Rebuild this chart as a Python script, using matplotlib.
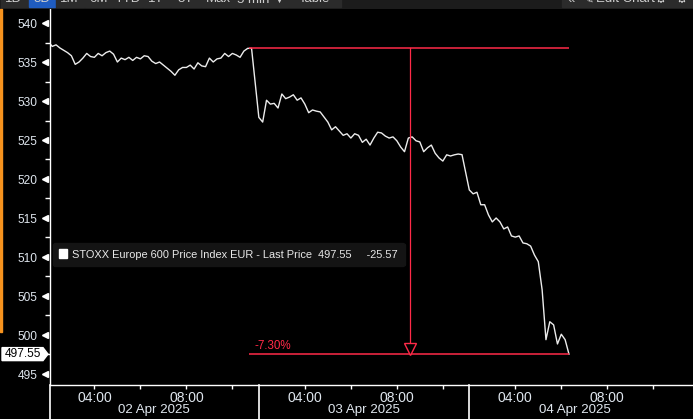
import numpy as np
import pandas as pd
import matplotlib
matplotlib.use('Agg')
import matplotlib.pyplot as plt
from matplotlib.patches import Patch, Polygon, Rectangle
from matplotlib.transforms import blended_transform_factory, offset_copy

plt.rcParams['font.family'] = ['Liberation Sans', 'DejaVu Sans']

# ---------------- data : STOXX Europe 600, 10 min bars, 3 sessions
day_labels = ['02 Apr 2025', '03 Apr 2025', '04 Apr 2025']
day_dates = ['2025-04-02', '2025-04-03', '2025-04-04']
session_open = '02:00'
bar_freq = '10min'

prices_d1 = [537.6, 537.0, 537.2, 536.8, 536.5, 536.2, 535.8, 534.7, 535.0, 535.5,
             536.1, 535.7, 535.6, 536.1, 535.8, 536.2, 536.4, 536.0, 535.0, 535.5,
             535.3, 535.6, 535.2, 535.6, 535.4, 535.8, 535.7, 535.1, 534.8, 535.0,
             534.6, 534.2, 533.8, 533.3, 534.0, 534.3, 534.3, 534.6, 534.1, 534.9,
             534.5, 534.4, 535.5, 535.0, 535.4, 535.5, 536.1, 535.7, 536.1, 535.9,
             535.6, 536.4, 536.75, 536.75]
prices_d2 = [527.9, 527.3, 530.1, 529.6, 529.7, 529.1, 530.9, 530.3, 530.5, 530.8,
             530.1, 530.4, 529.6, 528.5, 528.85, 528.7, 528.6, 527.95, 527.3, 526.3,
             526.7, 526.15, 525.6, 525.8, 525.25, 525.8, 525.6, 524.7, 525.1, 524.35,
             525.25, 526.0, 525.9, 525.5, 525.25, 525.4, 524.9, 524.1, 523.5, 525.25,
             525.4, 524.9, 524.75, 523.5, 524.0, 524.35, 523.3, 522.7, 522.3, 523.1,
             522.95, 523.1, 523.2, 523.12]
prices_d3 = [518.6, 518.1, 518.3, 516.7, 516.7, 515.4, 514.5, 515.0, 514.5, 513.6,
             513.85, 512.7, 512.55, 512.7, 511.8, 511.7, 511.4, 510.25, 509.4, 505.8,
             499.4, 501.7, 501.3, 498.85, 500.1, 499.4, 497.55]

series_name = 'STOXX Europe 600 Price Index EUR - Last Price'
hour_labels = [4, 8]
hour_minor = [6, 10]
y_major = [495, 500, 505, 510, 515, 520, 525, 530, 535, 540]

toolbar_left = ['1D', '5D', '1M', '6M', 'YTD', '1Y', '5Y', 'Max', '5 min \u25BC', 'Table']
toolbar_edges = [0, 28, 55, 84, 113, 142, 170, 201, 235, 288, 341]

# ---------------- style
RED = '#ff2a48'
TXT = '#dfe6ee'
W, H = 693, 419
PX_H = 23.0             # pixels per hour
DAY_LEN = 9.15          # hours shown per session
X0 = 0.07               # left limit, hours after first open
open_h = int(session_open[:2]) + int(session_open[3:]) / 60

def pos(day_idx, ts):
    return day_idx * DAY_LEN + ts.hour + ts.minute / 60 - open_h

xs, ys = [], []
for d, vals in enumerate([prices_d1, prices_d2, prices_d3]):
    times = pd.date_range(day_dates[d] + ' ' + session_open, periods=len(vals), freq=bar_freq)
    xs += [pos(d, t) for t in times]
    ys += vals
xs = np.array(xs)
ys = np.array(ys)

fig = plt.figure(figsize=(W / 100, H / 100), dpi=100, facecolor='black')
ax = fig.add_axes([50 / W, 34 / H, 1 - 50 / W, (385 - 9) / H])
ax.set_facecolor('black')

ax.plot(xs, ys, color='#ececec', lw=1.0)

ax.set_xlim(X0, X0 + (W - 50) / PX_H)
ax.set_ylim(540 - (385 - 23) / 7.8, 540 + (23 - 9) / 7.8)

for s in ['top', 'right']:
    ax.spines[s].set_visible(False)
for s in ['left', 'bottom']:
    ax.spines[s].set_color('white')
    ax.spines[s].set_linewidth(1)

# y axis
ax.set_yticks(y_major)
ax.set_yticks(np.arange(495, 541, 2.5), minor=True)
ax.tick_params(axis='y', which='major', length=0, pad=9, labelsize=8.6, labelcolor=TXT)
ax.tick_params(axis='y', which='minor', length=3.5, width=1, color='white', direction='out')
tri_tr = offset_copy(blended_transform_factory(ax.transAxes, ax.transData), fig=fig, x=-3.5, y=0, units='points')
ax.plot(np.zeros(len(y_major)), y_major, ls='none', marker='<', ms=5, color='white',
        transform=tri_tr, clip_on=False)

# x axis (compressed sessions)
xmaj = [d * DAY_LEN + h - open_h for d in range(3) for h in hour_labels]
xmin = [d * DAY_LEN + h - open_h for d in range(3) for h in hour_minor]
ax.set_xticks(xmaj)
ax.set_xticklabels([f'{h:02d}:00' for d in range(3) for h in hour_labels])
ax.set_xticks(xmin, minor=True)
ax.tick_params(axis='x', which='both', length=3, width=1, color='white', direction='out',
               pad=1.5, labelsize=10, labelcolor=TXT)
sep_tr = blended_transform_factory(ax.transData, ax.transAxes)
for d in range(3):
    xsep = max(d * DAY_LEN, X0)
    ax.plot([xsep] * 2, [0, -0.1], color='white', lw=1.2, transform=sep_tr, clip_on=False)
    ax.text(d * DAY_LEN + DAY_LEN / 2, -0.066, day_labels[d], transform=sep_tr,
            ha='center', va='center', fontsize=9.6, color=TXT)

# high -> last measurement
i_hi = len(prices_d1) - 1
x_hi, p_hi = xs[i_hi], ys[i_hi]
x_last, p_last = xs[-1], ys[-1]
pct = (p_last / p_hi - 1) * 100
ax.hlines([p_hi, p_last], x_hi - 0.1, x_last, color=RED, lw=1.1)
x_mid = (x_hi + x_last) / 2
ax.plot([x_mid, x_mid], [p_hi, p_last + 10 / 7.8], color=RED, lw=0.9)
ax.plot([x_mid], [p_last], marker='v', ms=8, mfc='black', mec=RED, mew=1,
        transform=offset_copy(ax.transData, fig=fig, x=0, y=3.9, units='points'))
ax.annotate(f'{pct:.2f}%', xy=(x_hi, p_last), xytext=(2, 1.5), textcoords='offset points',
            ha='left', va='bottom', color=RED, fontsize=8.4)

# legend
chg = p_last - prices_d2[-1]
leg = ax.legend([Patch(fc='white', ec='white')],
                [f'{series_name}  {p_last:.2f}     {chg:.2f}'],
                loc='center left', bbox_to_anchor=(0.004, 0.3475), frameon=True,
                fancybox=True, facecolor='#141414', edgecolor='#141414', framealpha=1,
                fontsize=7.9, handlelength=0.75, handleheight=0.9, handletextpad=0.45,
                borderpad=0.6, borderaxespad=0)
for t in leg.get_texts():
    t.set_color('#e8e8e8')

# last price tag on the left
yfig = fig.transFigure.inverted().transform(ax.transData.transform((0, p_last)))[1]
hh = 6.5 / H
tag = Polygon([(2 / W, yfig - hh), (43 / W, yfig - hh), (48 / W, yfig),
               (43 / W, yfig + hh), (2 / W, yfig + hh)],
              closed=True, fc='white', ec='white', transform=fig.transFigure)
fig.add_artist(tag)
fig.text(23 / W, yfig, f'{p_last:.2f}', ha='center', va='center', fontsize=8.6, color='black')

# orange bar at the left edge
fig.add_artist(Rectangle((0, (H - 332) / H), 2 / W, (332 - 9) / H, color='#f7931e',
                         transform=fig.transFigure))

# toolbar strip (top, partially cut)
tb = fig.add_axes([0, 1 - 9 / H, 1, 9 / H])
tb.set_xlim(0, W)
tb.set_ylim(0, 9)
tb.axis('off')
tb.add_patch(Rectangle((0, 0), W, 9, color='#1c1c1c'))
for i, lab in enumerate(toolbar_left):
    x0, x1 = toolbar_edges[i], toolbar_edges[i + 1]
    fc = '#1f5cc0' if lab == '5D' else '#2b2b2b'
    tb.add_patch(Rectangle((x0 + 0.5, 1.5), x1 - x0 - 1, 8, color=fc))
    tb.text((x0 + x1) / 2, 9.5, lab, ha='center', va='center', fontsize=9.5,
            color='#cfcfcf', clip_on=False)
tb.add_patch(Rectangle((562, 1.5), W - 562, 8, color='#2b2b2b'))
for xx, lab in [(571, '\u00AB'), (588, '\u270E'), (625, 'Edit Chart'), (661, '\u2699'), (682, '\u2699')]:
    tb.text(xx, 9.5, lab, ha='center', va='center', fontsize=9.5, color='#cfcfcf', clip_on=False)

fig.savefig('out.png', dpi=100, facecolor='black')
